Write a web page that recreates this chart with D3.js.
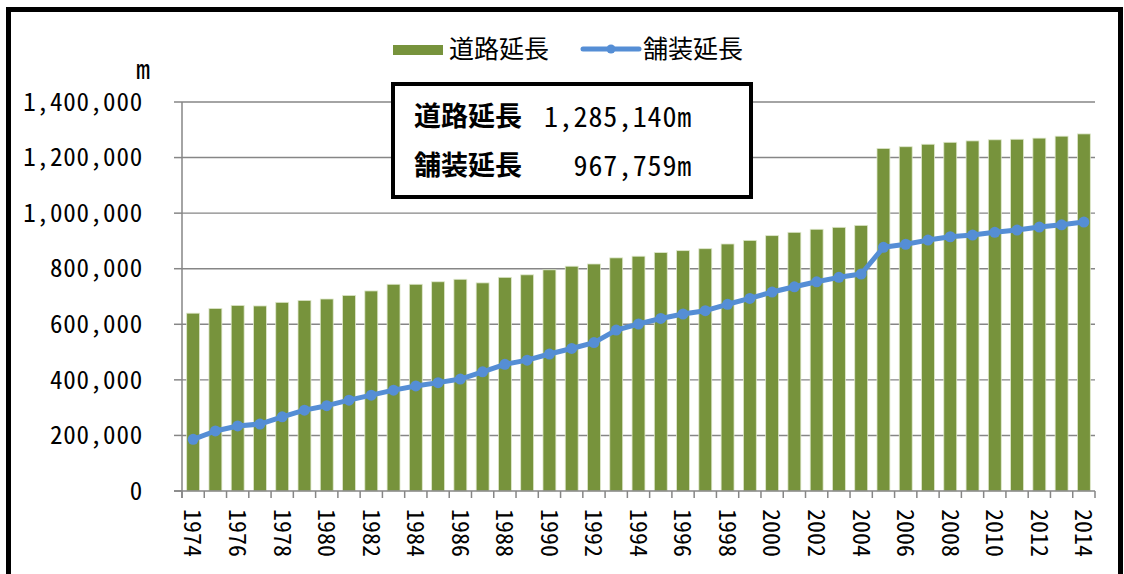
<!DOCTYPE html>
<html><head><meta charset="utf-8">
<script src="https://cdn.jsdelivr.net/npm/d3@7"></script>
<style>
html,body{margin:0;padding:0;background:#fff;}
svg text{font-family:"Noto Sans CJK JP","Noto Sans",sans-serif;font-feature-settings:"hwid" 1;fill:#000;}
</style></head>
<body><svg id="c" width="1124" height="574"></svg>
<script>
const years = [1974,1975,1976,1977,1978,1979,1980,1981,1982,1983,1984,1985,1986,1987,1988,1989,1990,1991,1992,1993,1994,1995,1996,1997,1998,1999,2000,2001,2002,2003,2004,2005,2006,2007,2008,2009,2010,2011,2012,2013,2014];
const roadLength = [640000,657000,668000,666000,679000,686000,691000,704000,720000,744000,744000,753000,762000,749000,769000,778000,796000,809000,817000,839000,845000,858000,865000,872000,889000,902000,919000,931000,942000,949000,956000,1233000,1239000,1248000,1255000,1260000,1264000,1266000,1270000,1277000,1285140];
const pavedLength = [186000,216000,234000,241000,267000,291000,307000,327000,345000,363000,378000,390000,403000,429000,456000,471000,493000,513000,534000,579000,601000,621000,637000,649000,672000,693000,716000,735000,753000,769000,781000,877000,888000,903000,915000,921000,931000,939000,950000,958000,967759];
const yTicks = [0,200000,400000,600000,800000,1000000,1200000,1400000];
const seriesNames = ["道路延長","舗装延長"];
const unitLabel = "m";
const noteLines = [["道路延長","1,285,140m"],["舗装延長","967,759m"]];

const svg = d3.select("#c");
const L = 182, R = 1095, T = 102, B = 491;
const green = "#77933c", blue = "#558ed5", grey = "#868686";

const x = d3.scaleBand().domain(years).range([L, R]).paddingInner(0.42).paddingOuter(0.21);
const y = d3.scaleLinear().domain([0, 1400000]).range([B, T]);

// outer border
svg.append("rect").attr("x", 8.5).attr("y", 9.5).attr("width", 1112).attr("height", 600)
  .attr("fill", "none").attr("stroke", "#000").attr("stroke-width", 5);

// gridlines
svg.append("g").selectAll("line").data(yTicks.filter(d => d > 0)).join("line")
  .attr("x1", L).attr("x2", R).attr("y1", d => y(d)).attr("y2", d => y(d))
  .attr("stroke", grey).attr("stroke-width", 1.4);

// bars
svg.append("g").selectAll("rect").data(years).join("rect")
  .attr("x", d => x(d)).attr("width", x.bandwidth())
  .attr("y", (d, i) => y(roadLength[i])).attr("height", (d, i) => B - y(roadLength[i]))
  .attr("fill", green).attr("stroke", "#dfe8cc").attr("stroke-width", 0.8);

// axes
const ax = svg.append("g").attr("stroke", grey).attr("stroke-width", 1.5);
ax.append("line").attr("x1", L).attr("x2", L).attr("y1", T).attr("y2", B + 7);
ax.append("line").attr("x1", L - 8).attr("x2", R).attr("y1", B).attr("y2", B);
ax.selectAll(".yt").data(yTicks).join("line").attr("class", "yt")
  .attr("x1", L - 8).attr("x2", L).attr("y1", d => y(d)).attr("y2", d => y(d));
const step = x.step();
const edges = years.map(d => x(d) + x.bandwidth() / 2 - step / 2).concat([x(years[years.length - 1]) + x.bandwidth() / 2 + step / 2]);
ax.selectAll(".xt").data(edges).join("line").attr("class", "xt")
  .attr("x1", d => d).attr("x2", d => d).attr("y1", B).attr("y2", B + 7);

// y labels
svg.append("g").selectAll("text").data(yTicks).join("text")
  .attr("x", 143).attr("y", d => y(d)).attr("dy", "0.35em")
  .attr("text-anchor", "end").attr("font-size", 25).attr("letter-spacing", 0.8)
  .text(d => d3.format(",")(d));

svg.append("text").attr("x", 143).attr("y", 79)
  .attr("text-anchor", "middle").attr("font-size", 28).text(unitLabel);

// x labels
svg.append("g").selectAll("text").data(years.filter(d => (d - years[0]) % 2 === 0)).join("text")
  .attr("transform", d => `translate(${x(d) + x.bandwidth() / 2},509) rotate(90)`)
  .attr("dy", "0.36em").attr("font-size", 24).text(d => d);

// line
const cx = (d, i) => x(years[i]) + x.bandwidth() / 2;
svg.append("path").datum(pavedLength)
  .attr("d", d3.line().x((d, i) => cx(d, i)).y(d => y(d)))
  .attr("fill", "none").attr("stroke", blue).attr("stroke-width", 5).attr("stroke-linejoin", "round");
svg.append("g").selectAll("circle").data(pavedLength).join("circle")
  .attr("cx", (d, i) => cx(d, i)).attr("cy", d => y(d)).attr("r", 5.5).attr("fill", blue);

// legend
const lg = svg.append("g");
lg.append("rect").attr("x", 393).attr("y", 45).attr("width", 50).attr("height", 10).attr("fill", green);
lg.append("text").attr("x", 449).attr("y", 49).attr("dy", "0.35em").attr("font-size", 25).text(seriesNames[0]);
lg.append("line").attr("x1", 583).attr("x2", 639).attr("y1", 49).attr("y2", 49)
  .attr("stroke", blue).attr("stroke-width", 5).attr("stroke-linecap", "round");
lg.append("circle").attr("cx", 611).attr("cy", 49).attr("r", 4.5).attr("fill", blue);
lg.append("text").attr("x", 643).attr("y", 49).attr("dy", "0.35em").attr("font-size", 25).text(seriesNames[1]);

// annotation box
const nb = svg.append("g");
nb.append("rect").attr("x", 393).attr("y", 84).attr("width", 358).attr("height", 113)
  .attr("fill", "#fff").attr("stroke", "#000").attr("stroke-width", 4);
const lineY = [117, 166];
noteLines.forEach((ln, i) => {
  nb.append("text").attr("x", 414).attr("y", lineY[i]).attr("dy", "0.35em")
    .attr("font-size", 27).attr("font-weight", "bold").text(ln[0]);
  nb.append("text").attr("x", 692).attr("y", lineY[i]).attr("dy", "0.35em")
    .attr("text-anchor", "end").attr("font-size", 28).attr("letter-spacing", 0.8).text(ln[1]);
});
</script></body></html>
